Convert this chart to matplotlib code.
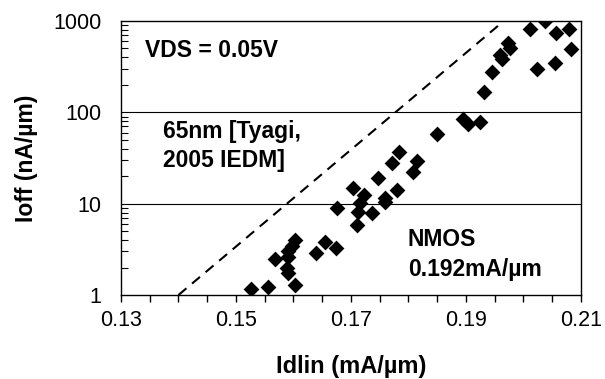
import numpy as np
import matplotlib
matplotlib.use('Agg')
import matplotlib.pyplot as plt
from matplotlib.ticker import FixedLocator, NullFormatter, LogLocator

plt.rcParams['font.family'] = ['Liberation Sans', 'DejaVu Sans']

# NMOS devices: Idlin (mA/um) vs Ioff (nA/um)
idlin = [0.2037, 0.2011, 0.2057, 0.2079, 0.2083, 0.2055, 0.1973, 0.1977,
         0.1959, 0.1963, 0.2023, 0.1945, 0.1931, 0.1895, 0.1903, 0.1924,
         0.1850, 0.1784, 0.1771, 0.1815, 0.1808, 0.1748, 0.1780, 0.1704,
         0.1722, 0.1759, 0.1759, 0.1675, 0.1716, 0.1713, 0.1736, 0.1710,
         0.1603, 0.1597, 0.1590, 0.1568, 0.1591, 0.1588, 0.1590, 0.1603,
         0.1556, 0.1526, 0.1655, 0.1640, 0.1674]
ioff = [1007, 824, 745, 824, 490, 347, 579, 503,
        425, 381, 296, 279, 167, 84, 74.5, 78,
        58, 36.5, 27.6, 29, 22, 19, 14.1, 14.7,
        12.4, 11.5, 10.5, 8.9, 10.1, 8.2, 7.85, 5.8,
        4.0, 3.4, 3.0, 2.46, 2.63, 1.96, 1.73, 1.29,
        1.23, 1.15, 3.8, 2.86, 3.3]

# dashed reference line
line_x = [0.14, 0.1966]
line_y = [1, 1000]

xticks = [0.13, 0.15, 0.17, 0.19, 0.21]
xlabels = ['0.13', '0.15', '0.17', '0.19', '0.21']
yticks = [1, 10, 100, 1000]
ylabels = ['1', '10', '100', '1000']

fig = plt.figure(figsize=(6.05, 3.79), dpi=100)
ax = fig.add_axes([0.2, 0.2216, 0.76, 0.723])

ax.set_yscale('log')
ax.set_xlim(0.13, 0.21)
ax.set_ylim(1, 1000)

for yv in [10, 100]:
    ax.axhline(yv, color='black', lw=0.8, zorder=1)

ax.plot(line_x, line_y, color='black', lw=1.5, dashes=(5, 3.5), zorder=2)
ax.scatter(idlin, ioff, marker='D', s=65, color='black', linewidths=0, zorder=3)

ax.xaxis.set_major_locator(FixedLocator(xticks))
ax.xaxis.set_minor_locator(FixedLocator(np.arange(0.13, 0.2101, 0.005)))
ax.set_xticklabels(xlabels)
ax.tick_params(axis='x', which='both', direction='out', length=5, width=1,
               labelsize=15.5, pad=6)
ax.yaxis.set_major_locator(FixedLocator(yticks))
ax.set_yticklabels(ylabels)
ax.tick_params(axis='y', which='major', direction='in', length=0, labelsize=15.5, pad=14)
ax.yaxis.set_minor_locator(LogLocator(base=10, subs=np.arange(2, 10)))
ax.yaxis.set_minor_formatter(NullFormatter())
ax.tick_params(axis='y', which='minor', direction='in', length=5, width=0.8)

for s in ax.spines.values():
    s.set_linewidth(1)

ax.set_xlabel('Idlin (mA/\u00b5m)', fontsize=17, fontweight='bold', labelpad=17)
ax.set_ylabel('Ioff (nA/\u00b5m)', fontsize=16.5, fontweight='bold', labelpad=11)

kw = dict(fontsize=16.5, fontweight='bold', va='baseline', transform=ax.transAxes)
ax.text(0.052, 0.869, 'VDS = 0.05V', **kw)
ax.text(0.0913, 0.573, '65nm [Tyagi,', **kw)
ax.text(0.0913, 0.467, '2005 IEDM]', **kw)
ax.text(0.624, 0.179, 'NMOS', **kw)
ax.text(0.624, 0.0693, '0.192mA/\u00b5m', **kw)

fig.savefig('out.png', dpi=100)
